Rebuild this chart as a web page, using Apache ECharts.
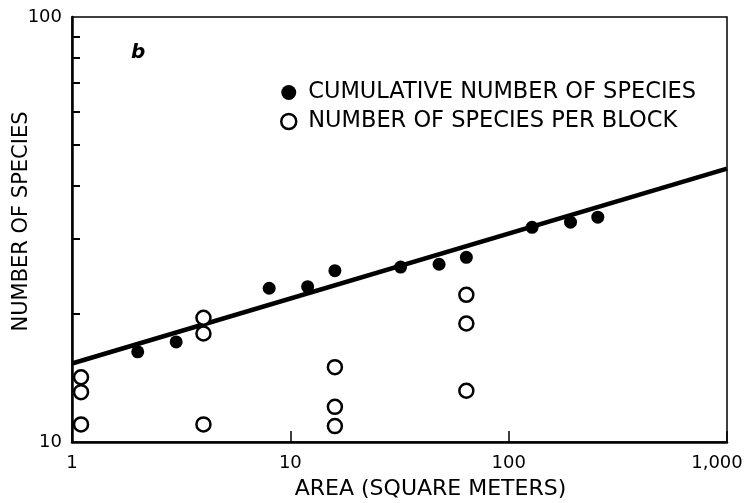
<!DOCTYPE html>
<html>
<head>
<meta charset="utf-8">
<script src="https://cdn.jsdelivr.net/npm/echarts@6/dist/echarts.min.js"></script>
<style>
  html, body { margin: 0; padding: 0; background: #fff; }
  #chart { width: 752px; height: 503px; }
</style>
</head>
<body>
<div id="chart"></div>
<script>
// cumulative number of species vs area
const cumArea = [2, 3, 8, 12, 16, 32, 48, 64, 128, 192, 256];
const cumSpecies = [16.3, 17.2, 23.0, 23.2, 25.3, 25.8, 26.2, 27.2, 32.0, 32.9, 33.8];

// species per block (several blocks at each size)
const blockArea = [1.1, 1.1, 1.1, 4, 4, 4, 16, 16, 16, 64, 64, 64];
const blockSpecies = [14.2, 13.1, 11.0, 19.6, 18.0, 11.0, 15.0, 12.1, 10.9, 22.2, 19.0, 13.2];

// fitted line, end points
const fitArea = [1, 1000];
const fitSpecies = [15.3, 44.0];

const xTicks = [1, 10, 100, 1000];
const xTickLabels = ['1', '10', '100', '1,000'];
const yMinorTicks = [20, 30, 40, 50, 60, 70, 80, 90];

const font = 'DejaVu Sans';

const chart = echarts.init(document.getElementById('chart'));

const option = {
  animation: false,
  backgroundColor: '#fff',
  title: {
    text: 'b',
    left: 126,
    top: 38,
    textStyle: { fontFamily: font, fontSize: 20, fontStyle: 'italic', fontWeight: 'bold', color: '#000' }
  },
  legend: {
    orient: 'vertical',
    left: 275,
    top: 76,
    itemWidth: 17,
    itemHeight: 15,
    itemGap: 6,
    textStyle: { fontFamily: font, fontSize: 22.5, color: '#000', lineHeight: 23, padding: [0, 0, 0, 6] },
    data: [
      { name: 'CUMULATIVE NUMBER OF SPECIES', icon: 'circle', itemStyle: { color: '#000', opacity: 1 } },
      { name: 'NUMBER OF SPECIES PER BLOCK', icon: 'circle', itemStyle: { color: '#fff', borderColor: '#000', borderWidth: 2.5, opacity: 1 } }
    ]
  },
  grid: {
    left: 72, right: 25, top: 17, bottom: 61,
    outerBoundsMode: 'none',
    containLabel: false,
    show: true, borderColor: '#000', borderWidth: 1.5, backgroundColor: 'transparent'
  },
  xAxis: {
    type: 'log',
    logBase: 10,
    min: 1,
    max: 1000,
    name: 'AREA (SQUARE METERS)',
    nameLocation: 'middle',
    nameGap: 36,
    nameMoveOverlap: false,
    nameTextStyle: { fontFamily: font, fontSize: 22, color: '#000', padding: [0, 0, 0, 62] },
    axisLine: { lineStyle: { color: '#000', width: 2.5 } },
    axisTick: { inside: true, length: 11, lineStyle: { color: '#000', width: 1.5 } },
    splitLine: { show: false },
    axisLabel: {
      margin: 12,
      fontFamily: font, fontSize: 18, color: '#000',
      formatter: v => {
        const i = xTicks.indexOf(Math.round(v));
        if (i < 0) return '';
        return i === xTicks.length - 1 ? '{last|' + xTickLabels[i] + '}' : xTickLabels[i];
      },
      rich: {
        last: { fontFamily: font, fontSize: 18, color: '#000', padding: [0, 20, 0, 0] }
      }
    }
  },
  yAxis: [
    {
      type: 'log',
      logBase: 10,
      min: 10,
      max: 100,
      name: 'NUMBER OF SPECIES',
      nameLocation: 'middle',
      nameGap: 40,
      nameMoveOverlap: false,
      nameTextStyle: { fontFamily: font, fontSize: 21, color: '#000', padding: [0, 0, 0, 16] },
      axisLine: { lineStyle: { color: '#000', width: 2.5 } },
      axisTick: { show: false },
      splitLine: { show: false },
      axisLabel: { margin: 10, fontFamily: font, fontSize: 18, color: '#000' }
    },
    {
      // carries the minor ticks between 10 and 100 (log10 scale)
      type: 'value',
      position: 'left',
      min: 1,
      max: 2,
      axisLine: { show: false },
      splitLine: { show: false },
      axisLabel: { show: false },
      axisTick: {
        inside: true,
        length: 8,
        customValues: yMinorTicks.map(v => Math.log10(v)),
        lineStyle: { color: '#000', width: 2 }
      }
    }
  ],
  series: [
    {
      name: 'fit',
      type: 'line',
      data: fitArea.map((a, i) => [a, fitSpecies[i]]),
      symbol: 'none',
      lineStyle: { color: '#000', width: 4.5 },
      z: 3
    },
    {
      name: 'CUMULATIVE NUMBER OF SPECIES',
      type: 'scatter',
      data: cumArea.map((a, i) => [a, cumSpecies[i]]),
      symbol: 'circle',
      symbolSize: 13,
      itemStyle: { color: '#000', opacity: 1 },
      z: 4
    },
    {
      name: 'NUMBER OF SPECIES PER BLOCK',
      type: 'scatter',
      data: blockArea.map((a, i) => [a, blockSpecies[i]]),
      symbol: 'circle',
      symbolSize: 14,
      itemStyle: { color: '#fff', borderColor: '#000', borderWidth: 2.5, opacity: 1 },
      z: 4
    }
  ]
};

chart.setOption(option);
</script>
</body>
</html>
